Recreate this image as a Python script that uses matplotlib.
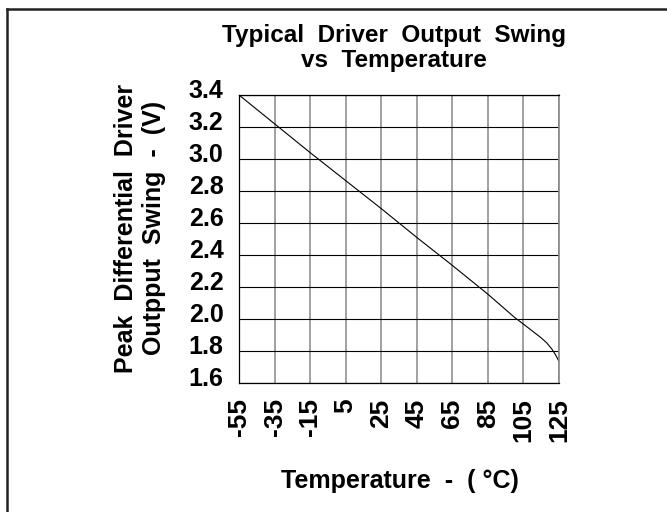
import matplotlib
matplotlib.use("Agg")
import matplotlib.pyplot as plt
import matplotlib.transforms as mtransforms
from matplotlib.lines import Line2D

# values
temps = [-55, -35, -15, 5, 25, 45, 65, 85, 100, 105, 110, 115, 118, 121, 123, 125]
swing = [3.40, 3.22, 3.04, 2.865, 2.69, 2.51, 2.335, 2.155, 2.01, 1.968, 1.925, 1.882,
         1.852, 1.812, 1.777, 1.735]

x_ticks = [-55, -35, -15, 5, 25, 45, 65, 85, 105, 125]
y_ticks = [1.6, 1.8, 2.0, 2.2, 2.4, 2.6, 2.8, 3.0, 3.2, 3.4]

plt.rcParams['font.family'] = ['Liberation Sans', 'DejaVu Sans']
plt.rcParams['font.weight'] = 'bold'

W, H = 667, 512
fig = plt.figure(figsize=(W / 100, H / 100), dpi=100)
ax = fig.add_axes([239 / W, 1 - 383 / H, 320 / W, 288 / H])

ax.plot(temps, swing, color='black', lw=0.8)

ax.set_xlim(-55, 125)
ax.set_ylim(1.6, 3.4)
ax.set_xticks(x_ticks)
ax.set_yticks(y_ticks)
ax.set_xticklabels([str(t) for t in x_ticks], rotation=90, fontsize=19,
                   fontweight='bold', va='top')
ax.set_yticklabels([f"{v:.1f}" for v in y_ticks], fontsize=18, fontweight='bold')
ax.tick_params(axis='x', length=0, pad=11)
ax.tick_params(axis='y', length=0, pad=11)

# y labels sit a bit above their grid lines in the reference
shift = mtransforms.ScaledTranslation(0, 0.07, fig.dpi_scale_trans)
for lbl in ax.get_yticklabels():
    lbl.set_transform(lbl.get_transform() + shift)

ax.grid(axis='y', color='black', lw=0.8)
ax.grid(axis='x', color='#888888', lw=1.1)
ax.set_axisbelow(True)
for side in ['left', 'top', 'bottom']:
    ax.spines[side].set_color('black')
    ax.spines[side].set_linewidth(0.9)
ax.spines['right'].set_color('#888888')
ax.spines['right'].set_linewidth(1.2)

fig.text(394 / W, 1 - 48 / H, "Typical  Driver  Output  Swing\nvs  Temperature",
         ha='center', va='center', fontsize=17.5, fontweight='bold', linespacing=1.1)
fig.text(140 / W, 1 - 228 / H, "Peak  Differential  Driver\nOutpput  Swing  -  (V)",
         ha='center', va='center', rotation=90, fontsize=18, fontweight='bold',
         linespacing=1.25)
fig.text(400 / W, 1 - 481 / H, "Temperature  -  ( \u00b0C)",
         ha='center', va='center', fontsize=18, fontweight='bold')

# outer frame (top and left edges only are visible)
fig.add_artist(Line2D([7 / W, 7 / W], [0, 1 - 9 / H], color='#222222', lw=1.8,
                      transform=fig.transFigure))
fig.add_artist(Line2D([7 / W, 1], [1 - 9 / H, 1 - 9 / H], color='#222222', lw=1.8,
                      transform=fig.transFigure))

fig.savefig("out.png", dpi=100)
